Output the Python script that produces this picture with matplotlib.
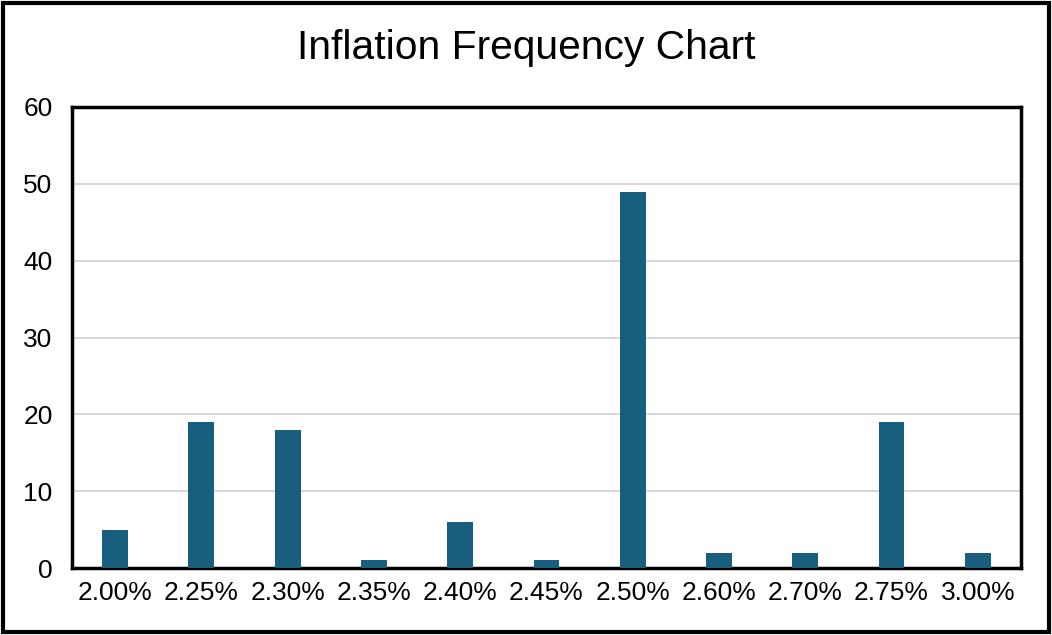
import matplotlib.pyplot as plt
from matplotlib.patches import Rectangle

# inflation rate buckets and how often each one occurs
rates = ["2.00%", "2.25%", "2.30%", "2.35%", "2.40%", "2.45%",
         "2.50%", "2.60%", "2.70%", "2.75%", "3.00%"]
counts = [5, 19, 18, 1, 6, 1, 49, 2, 2, 19, 2]

plt.rcParams["font.family"] = ["Liberation Sans", "DejaVu Sans"]

fig = plt.figure(figsize=(10.52, 6.35), dpi=100)
ax = fig.add_axes([0.0684, 0.1055, 0.9021, 0.726])

ax.bar(range(len(rates)), counts, width=0.3, color="#175E7F", zorder=3)

ax.set_xlim(-0.5, len(rates) - 0.5)
ax.set_ylim(0, 60)
ax.set_yticks(range(0, 61, 10))
ax.set_xticks(range(len(rates)))
ax.set_xticklabels(rates)
ax.tick_params(axis="both", length=0, labelsize=19, pad=9)
ax.tick_params(axis="y", pad=14)
ax.grid(axis="y", color="#D0D0D0", linewidth=1.2, zorder=0)

for sp in ax.spines.values():
    sp.set_linewidth(2.5)
    sp.set_color("black")

fig.text(0.5, 0.925, "Inflation Frequency Chart", ha="center", va="center",
         fontsize=29.3)

# outer chart border
fig.patches.append(Rectangle((0.003, 0.004), 0.994, 0.992, transform=fig.transFigure,
                             fill=False, edgecolor="black", linewidth=3))

fig.savefig("out.png", dpi=100)
